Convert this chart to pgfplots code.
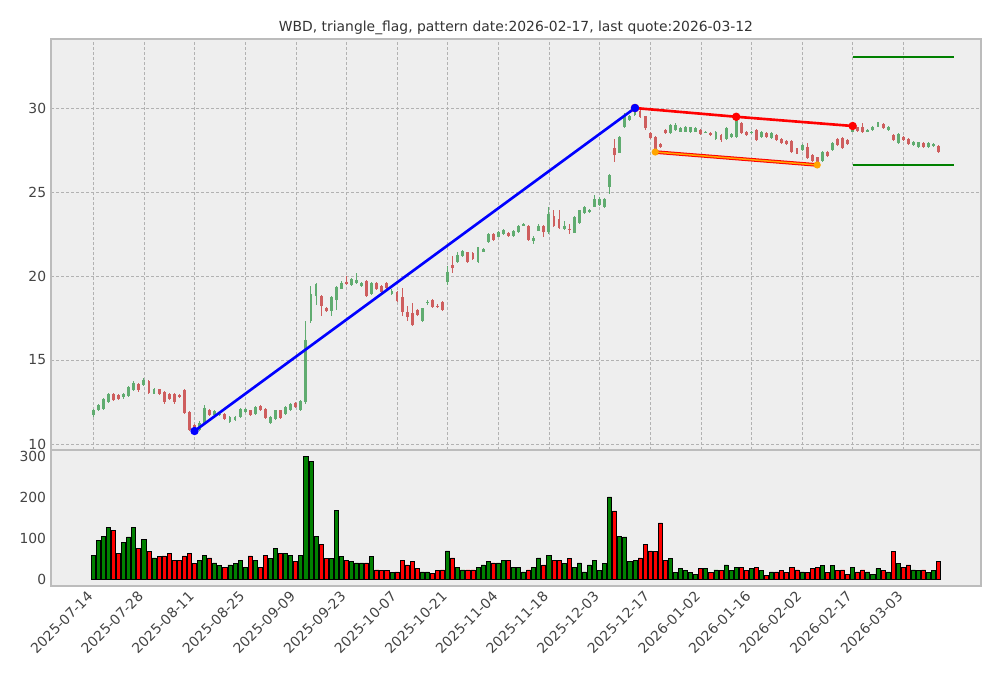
\documentclass[border=0pt]{standalone}
\usepackage{pgfplots}
\pgfplotsset{compat=1.18}
\usepackage{pgfplotstable}
\usepackage{fontspec}
\setmainfont{DejaVu Sans}
\definecolor{bg}{HTML}{EEEEEE}
\definecolor{framec}{HTML}{BCBCBC}
\definecolor{gridc}{HTML}{B2B2B2}
\definecolor{cup}{RGB}{96,172,112}
\definecolor{cdn}{RGB}{206,94,94}
\definecolor{txt}{HTML}{444444}
\definecolor{vgreen}{RGB}{0,128,0}
\definecolor{vred}{RGB}{255,0,0}
\definecolor{lorange}{RGB}{255,165,0}

\pgfplotstableread{
i O H L C V
0 11.70 12.10 11.60 12.00 60
1 12.00 12.35 11.95 12.30 95
2 12.10 12.75 12.05 12.70 106
3 12.50 13.05 12.45 13.00 126
4 13.00 13.05 12.55 12.60 119
5 12.90 12.95 12.60 12.70 63
6 12.80 13.05 12.70 13.00 90
7 12.85 13.45 12.80 13.40 104
8 13.20 13.75 13.15 13.65 128
9 13.55 13.60 13.10 13.20 75
10 13.50 13.90 13.45 13.80 97
11 13.75 13.80 13.00 13.05 68
12 13.00 13.35 12.95 13.30 53
13 13.25 13.30 12.95 13.00 56
14 13.10 13.15 12.40 12.50 58
15 13.00 13.05 12.65 12.70 65
16 13.00 13.05 12.40 12.50 48
17 12.90 12.95 12.75 12.80 48
18 13.20 13.25 11.80 11.85 58
19 11.90 11.95 10.80 10.85 63
20 11.10 11.20 10.77 10.90 39
21 10.85 11.35 10.80 11.25 48
22 11.20 12.30 11.15 12.15 60
23 12.00 12.10 11.65 11.70 53
24 11.75 12.05 11.70 11.95 41
25 11.70 11.85 11.65 11.80 34
26 11.80 11.85 11.45 11.50 29
27 11.30 11.65 11.25 11.60 36
28 11.40 11.65 11.35 11.60 39
29 11.60 12.15 11.55 12.10 48
30 11.90 12.15 11.85 12.07 31
31 12.00 12.05 11.65 11.70 58
32 11.80 12.25 11.75 12.20 46
33 12.25 12.30 11.95 12.00 31
34 12.10 12.15 11.50 11.55 60
35 11.25 11.65 11.20 11.60 51
36 11.50 12.05 11.45 12.00 75
37 12.00 12.05 11.50 11.55 65
38 11.80 12.25 11.75 12.20 63
39 12.00 12.45 11.95 12.40 60
40 12.45 12.50 12.15 12.20 44
41 12.00 12.60 11.95 12.55 60
42 12.50 17.30 12.40 16.20 300
43 17.30 19.40 17.20 18.90 288
44 18.80 19.60 18.30 19.50 106
45 18.80 18.85 17.60 18.20 85
46 18.10 18.15 17.85 17.90 51
47 17.90 18.80 17.60 18.75 51
48 18.60 19.40 18.00 19.35 169
49 19.25 19.70 19.20 19.60 56
50 19.65 20.00 19.50 19.55 48
51 19.45 19.90 19.40 19.80 44
52 19.60 20.20 19.55 19.75 41
53 19.40 19.65 19.35 19.60 41
54 19.70 19.75 18.75 18.80 41
55 18.90 19.65 18.85 19.60 56
56 19.60 19.65 19.15 19.20 24
57 19.40 19.45 19.00 19.05 22
58 19.60 19.65 19.25 19.30 22
59 18.90 19.20 18.85 19.10 17
60 19.05 19.10 18.45 18.50 19
61 18.77 19.30 17.60 17.88 46
62 17.88 18.20 17.30 17.58 36
63 17.78 18.40 17.05 17.08 44
64 17.98 18.05 17.60 17.68 27
65 17.30 18.10 17.25 18.08 19
66 18.37 18.60 18.30 18.47 19
67 18.60 18.65 18.10 18.17 15
68 18.20 18.35 18.10 18.15 22
69 18.45 18.50 17.95 18.00 24
70 19.66 20.60 19.46 20.26 70
71 20.65 21.20 20.20 20.46 53
72 20.85 21.40 20.80 21.25 31
73 21.20 21.55 21.15 21.50 24
74 21.40 21.45 20.80 20.85 24
75 21.35 21.40 20.95 21.00 24
76 20.85 21.75 20.80 21.70 31
77 21.45 21.65 21.40 21.60 36
78 22.00 22.55 21.95 22.50 44
79 22.50 22.55 22.10 22.15 41
80 22.35 22.65 22.30 22.60 41
81 22.50 22.80 22.45 22.75 46
82 22.55 22.60 22.35 22.40 48
83 22.40 22.75 22.35 22.70 31
84 22.60 23.05 22.55 23.00 29
85 23.00 23.15 22.95 23.10 19
86 23.00 23.05 22.10 22.15 24
87 22.10 22.40 21.90 22.25 31
88 22.70 23.10 22.65 23.00 53
89 23.00 23.05 22.34 22.60 36
90 22.60 24.10 22.50 23.70 60
91 23.60 23.90 22.90 23.00 48
92 23.37 23.90 22.80 22.84 46
93 22.80 23.30 22.75 23.00 39
94 22.80 23.10 22.50 22.75 51
95 22.58 23.55 22.55 23.50 31
96 23.15 23.95 23.10 23.90 41
97 23.77 24.15 23.70 24.10 19
98 23.80 24.00 23.75 23.90 36
99 24.13 24.80 24.10 24.57 46
100 24.20 24.70 24.15 24.60 22
101 24.10 24.65 24.05 24.57 39
102 25.30 26.10 24.90 26.00 201
103 27.60 28.15 26.80 27.20 167
104 27.35 28.35 27.30 28.30 106
105 28.90 29.70 28.80 29.50 104
106 29.30 29.60 29.25 29.50 44
107 29.60 30.00 29.50 29.85 46
108 29.84 29.90 29.40 29.48 53
109 29.50 29.55 28.70 28.80 85
110 28.50 28.55 28.15 28.20 70
111 28.30 28.35 27.38 27.50 68
112 27.85 27.90 27.65 27.70 138
113 28.70 28.75 28.45 28.50 46
114 28.50 29.05 28.45 29.00 51
115 28.70 29.10 28.65 29.00 17
116 28.60 28.85 28.55 28.80 27
117 28.60 28.95 28.55 28.90 22
118 28.55 28.90 28.50 28.85 17
119 28.60 28.85 28.55 28.80 12
120 28.70 28.75 28.40 28.45 27
121 28.55 28.65 28.50 28.60 27
122 28.50 28.55 28.35 28.40 17
123 28.15 28.65 28.10 28.60 24
124 28.40 28.45 28.00 28.10 22
125 28.15 28.85 28.10 28.80 36
126 28.25 28.50 28.20 28.45 22
127 28.25 29.50 28.20 29.45 31
128 29.10 29.15 28.45 28.50 29
129 28.60 28.65 28.35 28.40 22
130 28.50 28.65 28.45 28.60 27
131 28.70 28.75 28.05 28.10 31
132 28.25 28.65 28.20 28.60 22
133 28.50 28.55 28.25 28.30 10
134 28.20 28.55 28.15 28.50 19
135 28.40 28.45 28.05 28.10 19
136 28.17 28.20 27.88 27.92 22
137 28.05 28.10 27.80 27.85 17
138 28.05 28.10 27.35 27.40 29
139 27.60 27.65 27.25 27.30 24
140 27.50 27.85 27.45 27.80 19
141 27.70 27.90 26.95 27.00 17
142 27.20 27.25 26.80 26.86 27
143 27.06 27.10 26.61 26.70 29
144 26.86 27.45 26.80 27.40 34
145 27.40 27.45 27.10 27.15 17
146 27.50 27.95 27.45 27.90 34
147 28.17 28.20 27.75 27.80 22
148 28.20 28.25 27.55 27.60 24
149 28.10 28.15 27.80 27.85 12
150 28.60 28.95 28.55 28.93 31
151 28.85 28.90 28.60 28.65 19
152 28.90 29.10 28.50 28.60 24
153 28.60 28.75 28.55 28.70 19
154 28.70 28.95 28.65 28.90 12
155 28.93 29.15 28.90 29.10 27
156 29.07 29.10 28.75 28.80 22
157 28.70 28.95 28.65 28.90 19
158 28.40 28.45 28.05 28.10 68
159 27.90 28.50 27.85 28.45 39
160 28.30 28.35 28.05 28.10 31
161 28.15 28.20 27.80 27.85 36
162 27.80 28.05 27.75 28.00 24
163 27.70 28.00 27.65 27.95 22
164 27.90 27.95 27.65 27.70 24
165 27.70 27.95 27.65 27.90 17
166 27.75 27.90 27.70 27.85 22
167 27.74 27.78 27.35 27.40 44
}\data

\pgfplotsset{
  panel/.style={
    scale only axis, width=669.6pt,
    xmin=-8.35, xmax=175.35,
    xtick={0,10,...,160},
    axis background/.style={fill=bg},
    axis line style={framec, line width=1.1pt},
    major tick length=0pt,
    tick label style={font=\fontsize{10}{12}\selectfont, text=txt},
    /pgf/number format/assume math mode=true,
    clip=true,
  },
}

\begin{document}
\begin{tikzpicture}
\path[use as bounding box] (0pt,0pt) rectangle (720.72pt,488.16pt);

\node[anchor=base, inner sep=0pt, font=\fontsize{10}{12}\selectfont, text=black!80]
  at (371.52pt,465.12pt) {WBD, triangle\_flag, pattern date:2026-02-17, last quote:2026-03-12};

\begin{axis}[panel,
  at={(36.72pt,164.16pt)}, anchor=south west,
  height=295.92pt,
  ymin=9.64, ymax=34.11,
  ytick={10,15,20,25,30},
  xticklabels={},
  grid=major,
  major grid style={gridc, line width=0.4pt, dash pattern=on 2.2pt off 1.4pt},
]
% wicks up
\addplot[draw=none, mark=none, forget plot,
  error bars/.cd, y dir=both, y explicit, error mark=none,
  error bar style={draw=cup, line width=0.75pt}]
  table[x=i, y expr={\thisrow{C}>=\thisrow{O} ? \thisrow{C} : nan},
        y error plus expr=\thisrow{H}-\thisrow{C},
        y error minus expr=\thisrow{C}-\thisrow{L}] \data;
% wicks down
\addplot[draw=none, mark=none, forget plot,
  error bars/.cd, y dir=both, y explicit, error mark=none,
  error bar style={draw=cdn, line width=0.75pt}]
  table[x=i, y expr={\thisrow{C}<\thisrow{O} ? \thisrow{C} : nan},
        y error plus expr=\thisrow{H}-\thisrow{C},
        y error minus expr=\thisrow{C}-\thisrow{L}] \data;
% bodies up
\addplot[draw=none, mark=none, forget plot,
  error bars/.cd, y dir=minus, y explicit, error mark=none,
  error bar style={draw=cup, line width=2.1pt}]
  table[x=i, y expr={\thisrow{C}>=\thisrow{O} ? \thisrow{C} : nan},
        y error minus expr=\thisrow{C}-\thisrow{O}] \data;
% bodies down
\addplot[draw=none, mark=none, forget plot,
  error bars/.cd, y dir=plus, y explicit, error mark=none,
  error bar style={draw=cdn, line width=2.1pt}]
  table[x=i, y expr={\thisrow{C}<\thisrow{O} ? \thisrow{C} : nan},
        y error plus expr=\thisrow{O}-\thisrow{C}] \data;

% pattern lines
\addplot[vgreen, line width=1.1pt] coordinates {(150,33.04) (170,33.04)};
\addplot[vgreen, line width=1.1pt] coordinates {(150,26.61) (170,26.61)};
\addplot[red, line width=2.6pt] coordinates {(111,27.38) (143,26.61)};
\addplot[lorange, line width=1.1pt, mark=*, mark size=2pt, mark options={fill=lorange, draw=lorange}] coordinates {(111,27.38) (143,26.61)};
\addplot[red, line width=1.9pt, mark=*, mark size=2pt, mark options={fill=red, draw=red}] coordinates {(107,30.0) (127,29.48) (150,28.93)};
\addplot[blue, line width=1.9pt, mark=*, mark size=2pt, mark options={fill=blue, draw=blue}] coordinates {(20,10.77) (107,30.0)};
\end{axis}

\begin{axis}[panel,
  at={(36.72pt,66.24pt)}, anchor=south west,
  height=97.92pt,
  ymin=-15, ymax=315,
  ytick={0,100,200,300},
  xticklabels={2025-07-14,2025-07-28,2025-08-11,2025-08-25,2025-09-09,2025-09-23,2025-10-07,2025-10-21,2025-11-04,2025-11-18,2025-12-03,2025-12-17,2026-01-02,2026-01-16,2026-02-02,2026-02-17,2026-03-03},
  xticklabel style={xshift=-5pt, rotate=45, anchor=north east, inner sep=2pt},
]
\addplot[ybar, bar width=0.8, bar shift=0pt, fill=vgreen, draw=black, line width=0.6pt]
  table[x=i, y expr={\thisrow{C}>=\thisrow{O} ? \thisrow{V} : nan}] \data;
\addplot[ybar, bar width=0.8, bar shift=0pt, fill=vred, draw=black, line width=0.6pt]
  table[x=i, y expr={\thisrow{C}<\thisrow{O} ? \thisrow{V} : nan}] \data;
\end{axis}
\end{tikzpicture}
\end{document}
